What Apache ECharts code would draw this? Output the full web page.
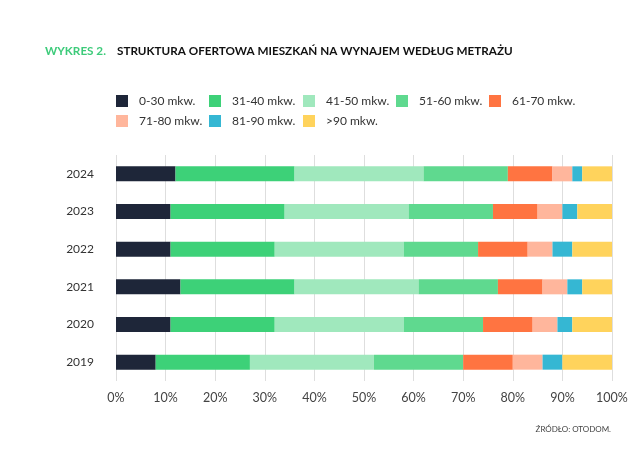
<!DOCTYPE html>
<html><head><meta charset="utf-8">
<script src="https://cdn.jsdelivr.net/npm/echarts@6/dist/echarts.min.js"></script>
<style>html,body{margin:0;padding:0;background:#fff}#c{width:640px;height:462px}</style>
</head><body><div id="c"></div>
<script>
const years = ['2019','2020','2021','2022','2023','2024'];
const seriesNames = ['0-30 mkw.','31-40 mkw.','41-50 mkw.','51-60 mkw.','61-70 mkw.','71-80 mkw.','81-90 mkw.','>90 mkw.'];
const colors = ['#1e2639','#3dd178','#a0e8bd','#5fd98f','#ff7441','#ffb69c','#35b7d3','#ffd35c'];
const s0_30  = [8, 11, 13, 11, 11, 12];
const s31_40 = [19, 21, 23, 21, 23, 24];
const s41_50 = [25, 26, 25, 26, 25, 26];
const s51_60 = [18, 16, 16, 15, 17, 17];
const s61_70 = [10, 10, 9, 10, 9, 9];
const s71_80 = [6, 5, 5, 5, 5, 4];
const s81_90 = [4, 3, 3, 4, 3, 2];
const s90p   = [10, 8, 6, 8, 7, 6];
const xTicks = [0,10,20,30,40,50,60,70,80,90,100];
const allData = [s0_30,s31_40,s41_50,s51_60,s61_70,s71_80,s81_90,s90p];

const font = 'Lato, "Open Sans", sans-serif';
const legendPos = [[116,95],[209,95],[303,95],[396,95],[489,95],[116,115],[209,115],[303,115]];
const legends = seriesNames.map((n,i)=>({
  data:[n], left:legendPos[i][0], top:legendPos[i][1], padding:0,
  itemWidth:12, itemHeight:12, itemGap:0, icon:'rect',
  textStyle:{fontFamily:font, fontSize:12, color:'#333', padding:[0,0,0,6]},
  selectedMode:false
}));

const chart = echarts.init(document.getElementById('c'), null, {renderer:'canvas'});
chart.setOption({
  animation:false,
  color: colors,
  title:{
    left:45, top:45, padding:0,
    text:'{a|WYKRES 2.}{b|STRUKTURA OFERTOWA MIESZKAŃ NA WYNAJEM WEDŁUG METRAŻU}',
    textStyle:{
      rich:{
        a:{fontFamily:font, fontSize:11.7, fontWeight:'bold', color:'#3dcb7a', width:72},
        b:{fontFamily:font, fontSize:11.7, fontWeight:'bold', color:'#111'}
      }
    }
  },
  legend: legends,
  grid:{left:116, right:28, top:155, height:226, containLabel:false},
  xAxis:{
    type:'value', min:0, max:100, interval:10,
    axisLine:{show:false}, axisTick:{show:false},
    splitLine:{lineStyle:{color:'#dedede', width:1}},
    axisLabel:{formatter:v=>v+'%', fontFamily:font, fontSize:12.5, color:'#444', margin:10}
  },
  yAxis:{
    type:'category', data:years,
    axisLine:{show:false}, axisTick:{show:false},
    axisLabel:{fontFamily:font, fontSize:12, color:'#333', margin:22}
  },
  series: seriesNames.map((n,i)=>({
    name:n, type:'bar', stack:'total', barWidth:15,
    data: allData[i],
    itemStyle:{color:colors[i]}
  })),
  graphic:[{
    type:'text', right:29, top:425,
    style:{text:'ŹRÓDŁO: OTODOM.', font:'8px '+font, fill:'#444'}
  }]
});
</script></body></html>
